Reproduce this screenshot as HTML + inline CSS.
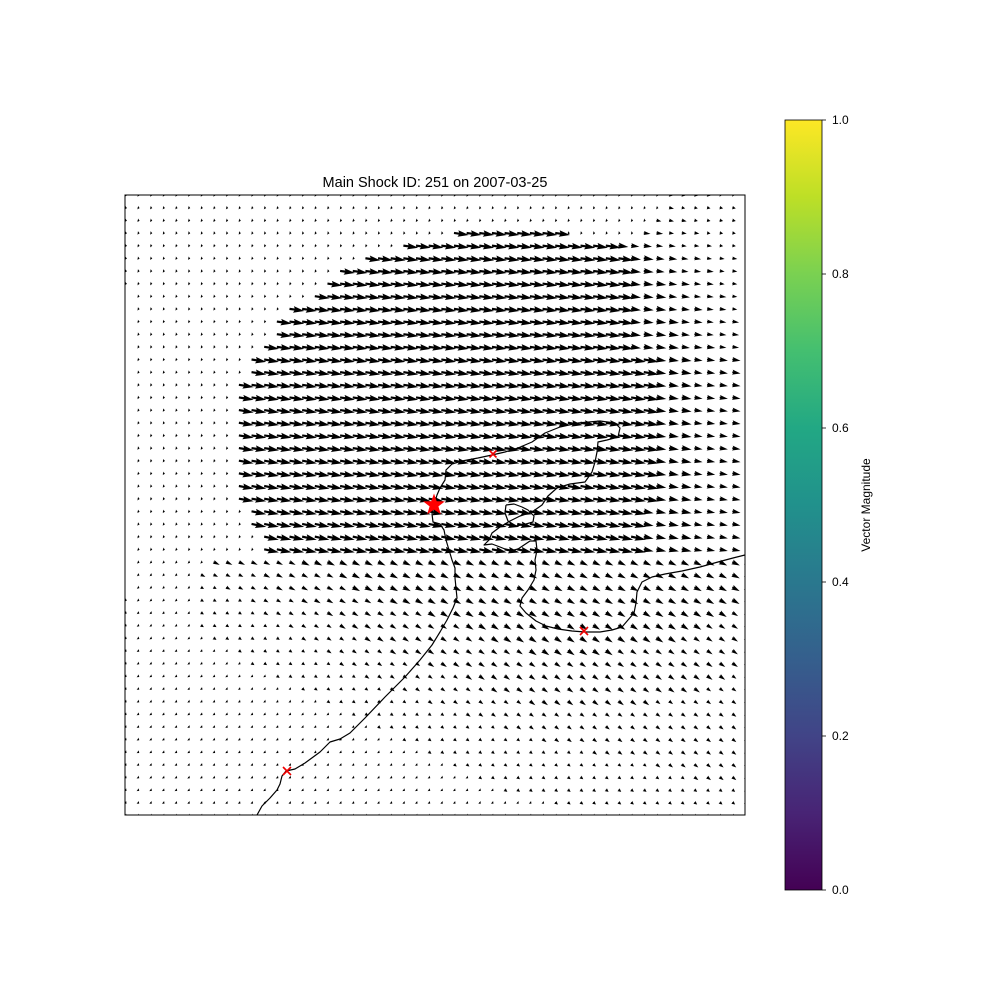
<!DOCTYPE html>
<html><head><meta charset="utf-8"><style>
html,body{margin:0;padding:0;background:#fff;}
svg{display:block;font-family:"Liberation Sans","DejaVu Sans",sans-serif;}
</style></head><body>
<svg id="chart" width="1000" height="1000" viewBox="0 0 1000 1000">
<defs>
<linearGradient id="viridis" x1="0" y1="1" x2="0" y2="0">
<stop offset="0" stop-color="#440154"/><stop offset="0.1" stop-color="#482475"/><stop offset="0.2" stop-color="#414487"/>
<stop offset="0.3" stop-color="#355f8d"/><stop offset="0.4" stop-color="#2a788e"/><stop offset="0.5" stop-color="#21918c"/>
<stop offset="0.6" stop-color="#22a884"/><stop offset="0.7" stop-color="#44bf70"/><stop offset="0.8" stop-color="#7ad151"/>
<stop offset="0.9" stop-color="#bddf26"/><stop offset="1" stop-color="#fde725"/></linearGradient>
<clipPath id="plotclip"><rect x="125" y="195" width="620" height="620"/></clipPath>
</defs>
<text x="435" y="187" text-anchor="middle" font-size="14.5">Main Shock ID: 251 on 2007-03-25</text>
<g id="arrows" clip-path="url(#plotclip)"></g>
<g id="coast" clip-path="url(#plotclip)"></g>
<g id="markers"></g>
<rect x="125" y="195" width="620" height="620" fill="none" stroke="#000" stroke-width="1"/>
<rect x="785" y="120" width="37" height="770" fill="url(#viridis)" stroke="#000" stroke-width="0.8"/>
<g id="cbticks"></g>
<text transform="translate(870,505) rotate(-90)" text-anchor="middle" font-size="12">Vector Magnitude</text>
</svg>
<script>
const rows = [
"........................................" + "...1111...",
"........................................" + "...2111111",
"........................................" + "..22211111",
".........." + ".........." + "......9999" + "99999....." + ".332221111",
".........." + ".........." + "..99999999" + "9999999995" + "4433222111",
".........." + ".........9" + "9999999999" + "9999999999" + "5544332221",
".........." + ".......999" + "9999999999" + "9999999999" + "5544333222",
".........." + "......9999" + "9999999999" + "9999999999" + "5554433222",
"L........." + ".....99999" + "9999999999" + "9999999999" + "5554433322",
"L........." + "...9999999" + "9999999999" + "9999999999" + "5554443322",
"L........." + "..99999999" + "9999999999" + "9999999999" + "5555443332",
"L........." + "..99999999" + "9999999999" + "9999999999" + "5555443332",
"L........." + ".999999999" + "9999999999" + "9999999999" + "5555444333",
"L........." + "9999999999" + "9999999999" + "9999999999" + "9955544443",
"L........." + "9999999999" + "9999999999" + "9999999999" + "9955544443",
"L........9" + "9999999999" + "9999999999" + "9999999999" + "9955544444",
"L........9" + "9999999999" + "9999999999" + "9999999999" + "9955544444",
"L........9" + "9999999999" + "9999999999" + "9999999999" + "9955544444",
"L........9" + "9999999999" + "9999999999" + "9999999999" + "9955544444",
"L........9" + "9999999999" + "9999999999" + "9999999999" + "9955544444",
"L........9" + "9999999999" + "9999999999" + "9999999999" + "9955544444",
"L........9" + "9999999999" + "9999999999" + "9999999999" + "9955544444",
"L........9" + "9999999999" + "9999999999" + "9999999999" + "9955544444",
"L........9" + "9999999999" + "9999999999" + "9999999999" + "9955544444",
"L........9" + "9999999999" + "9999999999" + "9999999999" + "9955544444",
"L........." + "9999999999" + "9999999999" + "9999999999" + "9555544444",
"L........." + "9999999999" + "9999999999" + "9999999999" + "9555544444",
"L........." + ".999999999" + "9999999999" + "9999999999" + "9555544444",
"L........." + ".999999999" + "9999999999" + "9999999999" + "9555544444",
"L......333" + "3333444444" + "4444444444" + "4444444444" + "4444444444",
"L.....2222" + "2333333444" + "4444444444" + "4444444444" + "4444444444",
"L.....1122" + "2233333344" + "4444444444" + "4444444444" + "4444444444",
"......1111" + "2222333333" + "3444444444" + "4444444444" + "4444444443",
"......1111" + "1222223333" + "3333444444" + "4444444444" + "4444444433",
"......1111" + "1112222333" + "3333333444" + "4444444444" + "4444443333",
".......111" + "1111222223" + "3333333334" + "4444444444" + "4444333333",
".........1" + "1111112222" + "2333333333" + "3344444443" + "3333333333",
".........." + "1111111222" + "2222333333" + "3333333333" + "3333333333",
".........." + "..11111112" + "2222222333" + "3333333333" + "3333333322",
".........." + "....111111" + "1222222223" + "3333333333" + "3333332222",
".........." + "......1111" + "1111222222" + "2233333333" + "3322222222",
".........." + "........11" + "1111111222" + "2222222222" + "2222222222",
".........." + ".........." + "1111111111" + "2222222222" + "2222222222",
".........." + ".........." + "..11111111" + "1112222222" + "2222222222",
".........." + ".........." + "....111111" + "1111111222" + "2222222222",
".........." + ".........." + "......1111" + "1111111111" + "1122222222",
".........." + ".........." + "........11" + "1111111111" + "1111122222",
".........." + ".........." + ".........." + "1111111111" + "1111111112",
".........." + ".........." + ".........." + "....111111" + "1111111111",
".........." + ".........." + ".........." + ".........." + ".........."
];
const rowAngle = [10,12,12,8,8,8,8,8,8,8,8,8,8,9,9,9,9,9,9,9,9,10,10,10,10,11,11,12,12,25,27,28,30,32,33,34,35,35,36,36,37,37,38,38,38,38,38,38,38,38];
const levelLen = {".":2,"1":3.5,"2":5,"3":6.8,"4":8.3,"5":10,"9":15,"L":5};
const colorbarTicks = [0.0,0.2,0.4,0.6,0.8,1.0];
const coastMain = [[257,815],[262,806],[270,798],[277,790],[280,784],[282,776],[286,771],[295,769],[305,763],[320,752],[327,745],[330,742],[340,739],[350,733],[365,718],[385,697],[405,677],[420,660],[432,645],[440,632],[447,620],[453,608],[457,598],[456,588],[455,578],[455,568],[452,560],[449,550],[446,540],[444,530],[440,524],[433,522],[432,514],[434,505],[437,495],[440,488],[445,480],[446,470],[452,464],[462,461],[478,458],[492,455],[505,452],[518,448],[532,442],[545,433],[560,427],[578,423],[600,421],[615,423],[620,428],[618,437],[607,440],[598,442],[597,452],[595,462],[592,472],[585,482],[570,484],[557,488],[548,496],[542,505],[532,512],[520,516],[510,521],[500,527],[492,533],[489,540],[484,545],[492,544],[500,547],[510,551],[518,549],[524,545],[530,541],[536,541],[537,550],[535,560],[536,570],[534,580],[528,590],[522,598],[520,606],[526,613],[536,621],[546,626],[558,629],[572,631],[585,632],[600,632],[612,630],[622,627],[628,620],[634,613],[636,603],[637,592],[642,582],[652,577],[665,574],[682,571],[700,567],[718,562],[733,558],[745,555]];
const coastInner = [[506,505],[514,504],[522,507],[528,510],[534,516],[533,522],[526,524],[516,526],[508,521],[505,513],[506,505]];
const markerX = [[493,454,3.5],[584,631,4],[287,771,4]];
const mainShock = [434,505];

const NS = "http://www.w3.org/2000/svg";
const x0 = 125, y0 = 195, step = 620/49;
function colX(i){ return x0 + i*step; }
function rowY(j){ return y0 + j*step; }
function arrowPath(L){
  let w = 2.2, hl = 5*w, hal = 4.5*w, hw = 1.5*w;
  let s = 1;
  if (L < hl) { s = L/hl; }
  w*=s; hl*=s; hal*=s; hw*=s;
  if (w < 1.2) { const k = 1.2/w; w*=k; hw*=k; }
  const hw2 = w/2;
  return `M0,${-hw2} L${L-hal},${-hw2} L${L-hl},${-hw} L${L},0 L${L-hl},${hw} L${L-hal},${hw2} L0,${hw2} Z`;
}
const ag = document.getElementById('arrows');
for (let j=0;j<rows.length;j++){
  const r = rows[j];
  for (let i=0;i<r.length;i++){
    const c = r[i];
    const L = levelLen[c] || 2;
    const ang = c==="L" ? 180 : rowAngle[j];
    const p = document.createElementNS(NS,'path');
    p.setAttribute('d', arrowPath(L));
    p.setAttribute('transform', `translate(${colX(i).toFixed(2)},${rowY(j).toFixed(2)}) rotate(${ang})`);
    p.setAttribute('fill','#000');
    
    
    ag.appendChild(p);
  }
}
const cg = document.getElementById('coast');
[coastMain, coastInner].forEach(pts=>{
  const pl = document.createElementNS(NS,'polyline');
  pl.setAttribute('points', pts.map(p=>p.join(',')).join(' '));
  pl.setAttribute('fill','none'); pl.setAttribute('stroke','#000'); pl.setAttribute('stroke-width','1.2');
  pl.setAttribute('stroke-linejoin','round');
  
  
  cg.appendChild(pl);
});
const mg = document.getElementById('markers');
markerX.forEach(m=>{
  const [x,y,s] = m;
  const p = document.createElementNS(NS,'path');
  p.setAttribute('d', `M${x-s},${y-s} L${x+s},${y+s} M${x-s},${y+s} L${x+s},${y-s}`);
  p.setAttribute('stroke','#e00'); p.setAttribute('stroke-width','1.6');
  
  
  mg.appendChild(p);
});
(function(){
  const [cx,cy] = mainShock; const R=11.5, r=4.6; let pts=[];
  for(let k=0;k<10;k++){ const a=-Math.PI/2 + k*Math.PI/5; const rr = k%2?r:R; pts.push((cx+rr*Math.cos(a)).toFixed(1)+','+(cy+rr*Math.sin(a)).toFixed(1)); }
  const s = document.createElementNS(NS,'polygon');
  s.setAttribute('points', pts.join(' ')); s.setAttribute('fill','#f00');
  
  
  mg.appendChild(s);
})();
const tg = document.getElementById('cbticks');
colorbarTicks.forEach(v=>{
  const y = 890 - v*770;
  const l = document.createElementNS(NS,'line');
  l.setAttribute('x1',822); l.setAttribute('x2',826); l.setAttribute('y1',y); l.setAttribute('y2',y);
  l.setAttribute('stroke','#000'); l.setAttribute('stroke-width','0.8');
  
  
  tg.appendChild(l);
  const t = document.createElementNS(NS,'text');
  t.setAttribute('x',832); t.setAttribute('y',y+4); t.setAttribute('font-size','12');
  t.textContent = v.toFixed(1);
  
  
  tg.appendChild(t);
});
</script>
</body></html>
